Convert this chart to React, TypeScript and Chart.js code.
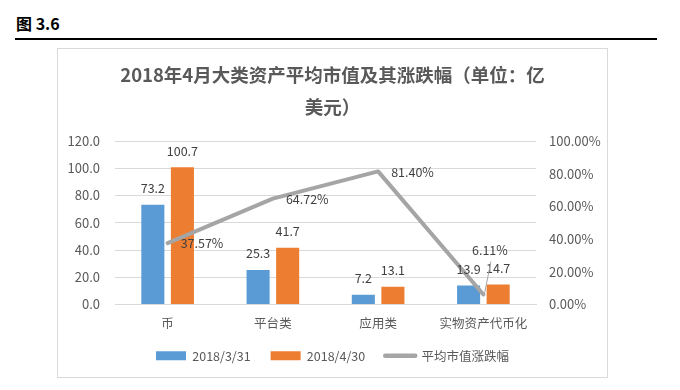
import React, { useEffect, useRef } from 'react';
import { Chart, registerables } from 'chart.js';

Chart.register(...registerables);

const categories = ['币', '平台类', '应用类', '实物资产代币化'];
const valuesMar = [73.2, 25.3, 7.2, 13.9];
const valuesApr = [100.7, 41.7, 13.1, 14.7];
const changePct = [37.57, 64.72, 81.4, 6.11];
const seriesNames = ['2018/3/31', '2018/4/30', '平均市值涨跌幅'];
const titleLines = ['2018年4月大类资产平均市值及其涨跌幅（单位：亿', '美元）'];
const figureLabel = '图 3.6';

const BLUE = '#5B9BD5';
const ORANGE = '#ED7D31';
const GRAY = '#A5A5A5';
const TEXT = '#595959';
const LABEL = '#404040';
const GRID = '#D9D9D9';
const FAMILY = '"Noto Sans CJK SC", "Noto Sans", sans-serif';

const dataLabelPlugin = {
  id: 'dataLabels',
  afterDatasetsDraw(chart: any) {
    const ctx = chart.ctx;
    ctx.save();
    ctx.font = `12.5px ${FAMILY}`;
    ctx.fillStyle = LABEL;
    chart.data.datasets.forEach((ds: any, di: number) => {
      const meta = chart.getDatasetMeta(di);
      meta.data.forEach((el: any, i: number) => {
        const v = ds.data[i];
        if (ds.type === 'line') {
          const txt = v.toFixed(2) + '%';
          if (i === ds.data.length - 1) {
            ctx.strokeStyle = GRAY;
            ctx.lineWidth = 1;
            ctx.beginPath();
            ctx.moveTo(el.x + 1, el.y);
            ctx.lineTo(el.x + 7.5, el.y - 33);
            ctx.stroke();
            ctx.textAlign = 'center';
            ctx.textBaseline = 'middle';
            ctx.fillText(txt, el.x + 6.5, el.y - 44);
          } else {
            ctx.textAlign = 'left';
            ctx.textBaseline = 'middle';
            ctx.fillText(txt, el.x + 13, el.y + 0.5);
          }
        } else {
          ctx.textAlign = 'center';
          ctx.textBaseline = 'middle';
          ctx.fillText(v.toFixed(1), el.x, el.y - 16.5);
        }
      });
    });
    ctx.restore();
  },
};

function ChartCanvas() {
  const ref = useRef<HTMLCanvasElement | null>(null);
  useEffect(() => {
    if (!ref.current) return;
    Chart.defaults.font.family = FAMILY;
    const chart = new Chart(ref.current, {
      type: 'bar',
      data: {
        labels: categories,
        datasets: [
          {
            type: 'bar',
            label: seriesNames[0],
            data: valuesMar,
            backgroundColor: BLUE,
            yAxisID: 'y',
            order: 1,
            categoryPercentage: 0.562,
            barPercentage: 0.78,
          },
          {
            type: 'bar',
            label: seriesNames[1],
            data: valuesApr,
            backgroundColor: ORANGE,
            yAxisID: 'y',
            order: 1,
            categoryPercentage: 0.562,
            barPercentage: 0.78,
          },
          {
            type: 'line',
            label: seriesNames[2],
            data: changePct,
            borderColor: GRAY,
            backgroundColor: GRAY,
            borderWidth: 4,
            pointRadius: 0,
            borderCapStyle: 'round',
            borderJoinStyle: 'round',
            yAxisID: 'y1',
            order: -1,
          },
        ] as any,
      },
      options: {
        animation: false,
        responsive: true,
        maintainAspectRatio: false,
        devicePixelRatio: 1,
        layout: { padding: { left: 0, right: 0, top: 0, bottom: 5 } },
        plugins: {
          tooltip: { enabled: false },
          title: {
            display: true,
            text: titleLines,
            color: TEXT,
            font: { size: 18.5, weight: 'bold', family: FAMILY, lineHeight: '32px' } as any,
            padding: { top: 10, bottom: 18 },
          },
          legend: {
            display: true,
            position: 'bottom',
            labels: {
              usePointStyle: true,
              pointStyleWidth: 30,
              boxHeight: 9,
              padding: 20,
              color: TEXT,
              font: { size: 12.5, family: FAMILY },
              generateLabels: () => [
                { text: seriesNames[0], fillStyle: BLUE, strokeStyle: BLUE, lineWidth: 0, pointStyle: 'rect', datasetIndex: 0, hidden: false, fontColor: TEXT },
                { text: seriesNames[1], fillStyle: ORANGE, strokeStyle: ORANGE, lineWidth: 0, pointStyle: 'rect', datasetIndex: 1, hidden: false, fontColor: TEXT },
                { text: seriesNames[2], fillStyle: GRAY, strokeStyle: GRAY, lineWidth: 4.5, lineCap: 'round', pointStyle: 'line', datasetIndex: 2, hidden: false, fontColor: TEXT },
              ] as any,
            },
          },
        },
        scales: {
          x: {
            grid: { display: false, drawTicks: false },
            border: { display: true, color: GRID },
            ticks: { color: TEXT, font: { size: 12.5, family: FAMILY }, padding: 11 },
            afterFit: (s: any) => { s.height = 25; },
          },
          y: {
            position: 'left',
            min: 0,
            max: 120,
            ticks: {
              stepSize: 20,
              color: TEXT,
              font: { size: 13, family: FAMILY },
              padding: 15,
              callback: (v: any) => Number(v).toFixed(1),
            },
            grid: { color: GRID, drawTicks: false },
            border: { display: false },
            afterFit: (s: any) => { s.width = 57; },
          },
          y1: {
            position: 'right',
            min: 0,
            max: 100,
            ticks: {
              stepSize: 20,
              color: TEXT,
              font: { size: 13, family: FAMILY },
              padding: 13,
              callback: (v: any) => Number(v).toFixed(2) + '%',
            },
            grid: { display: false, drawTicks: false },
            border: { display: false },
            afterFit: (s: any) => { s.width = 71; },
          },
        },
      } as any,
      plugins: [dataLabelPlugin],
    });
    return () => chart.destroy();
  }, []);
  return <canvas ref={ref} />;
}

export default function App() {
  return (
    <div style={{ position: 'absolute', left: 0, top: 0, width: 680, height: 390, background: '#fff', fontFamily: FAMILY }}>
      <div style={{ position: 'absolute', left: 16, top: 15, fontSize: 16, lineHeight: '16px', fontWeight: 'bold', color: '#000', whiteSpace: 'nowrap' }}>
        {figureLabel}
      </div>
      <div style={{ position: 'absolute', left: 15, top: 38, width: 642, height: 2, background: '#000' }} />
      <div style={{ position: 'absolute', left: 57, top: 48, width: 549, height: 328, border: `1px solid ${GRID}` }}>
        <div style={{ position: 'relative', width: 549, height: 328 }}>
          <ChartCanvas />
        </div>
      </div>
    </div>
  );
}
